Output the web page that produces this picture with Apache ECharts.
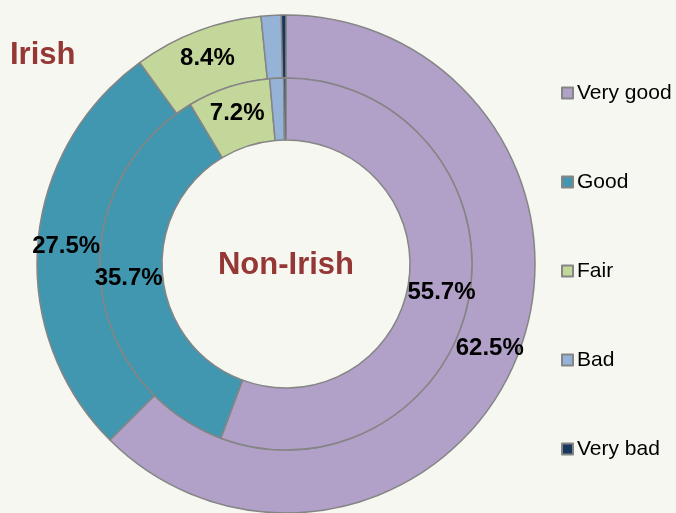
<!DOCTYPE html>
<html>
<head>
<meta charset="utf-8">
<script src="https://cdn.jsdelivr.net/npm/echarts@6/dist/echarts.min.js"></script>
<style>
  html, body { margin: 0; padding: 0; background: #f7f7f1; }
  #chart { width: 676px; height: 513px; }
</style>
</head>
<body>
<div id="chart"></div>
<script>
// Self-rated health categories
const categories = ['Very good', 'Good', 'Fair', 'Bad', 'Very bad'];
// Share of respondents (%), outer ring = Irish, inner ring = Non-Irish
const irishValues = [62.5, 27.5, 8.4, 1.3, 0.3];
const nonIrishValues = [55.7, 35.7, 7.2, 1.2, 0.2];
const sliceColors = ['#b1a0c7', '#4197b0', '#c4d79b', '#95b3d7', '#17375e'];
// Slices below this share carry no label
const labelThreshold = 5;

function toData(values) {
  return categories.map((name, i) => ({
    name: name,
    value: values[i],
    itemStyle: { color: sliceColors[i] },
    label: { show: values[i] >= labelThreshold }
  }));
}

const center = [286, 264];
const ringLabel = {
  position: 'inside',
  formatter: p => p.value.toFixed(1) + '%',
  color: '#000',
  fontFamily: 'Liberation Sans, Arial, sans-serif',
  fontWeight: 'bold',
  fontSize: 24
};
const ringItem = { borderColor: '#858585', borderWidth: 1.5 };

const chart = echarts.init(document.getElementById('chart'), null, { renderer: 'canvas' });
chart.setOption({
  backgroundColor: '#f7f7f1',
  animation: false,
  legend: {
    orient: 'vertical',
    left: 561,
    top: 82,
    padding: 0,
    data: categories,
    icon: 'rect',
    itemWidth: 11,
    itemHeight: 11,
    itemGap: 67,
    textStyle: {
      fontFamily: 'Liberation Sans, Arial, sans-serif',
      fontSize: 21,
      lineHeight: 22,
      color: '#000',
      padding: [0, 0, 0, -1]
    }
  },
  graphic: [
    {
      type: 'text', left: 10, top: 40,
      style: { text: 'Irish', fill: '#953735', fontFamily: 'Liberation Sans, Arial, sans-serif', fontWeight: 'bold', fontSize: 31 }
    },
    {
      type: 'text', x: 286, y: 265,
      style: { text: 'Non-Irish', fill: '#953735', fontFamily: 'Liberation Sans, Arial, sans-serif', fontWeight: 'bold', fontSize: 31, textAlign: 'center', textVerticalAlign: 'middle' }
    }
  ],
  series: [
    {
      name: 'Irish',
      type: 'pie',
      center: center,
      radius: [186, 249],
      startAngle: 90,
      clockwise: true,
      avoidLabelOverlap: false,
      label: ringLabel,
      labelLine: { show: false },
      itemStyle: ringItem,
      emphasis: { disabled: true },
      data: toData(irishValues)
    },
    {
      name: 'Non-Irish',
      type: 'pie',
      center: center,
      radius: [124, 186],
      startAngle: 90,
      clockwise: true,
      avoidLabelOverlap: false,
      label: ringLabel,
      labelLine: { show: false },
      itemStyle: ringItem,
      emphasis: { disabled: true },
      data: toData(nonIrishValues)
    }
  ]
});
</script>
</body>
</html>
